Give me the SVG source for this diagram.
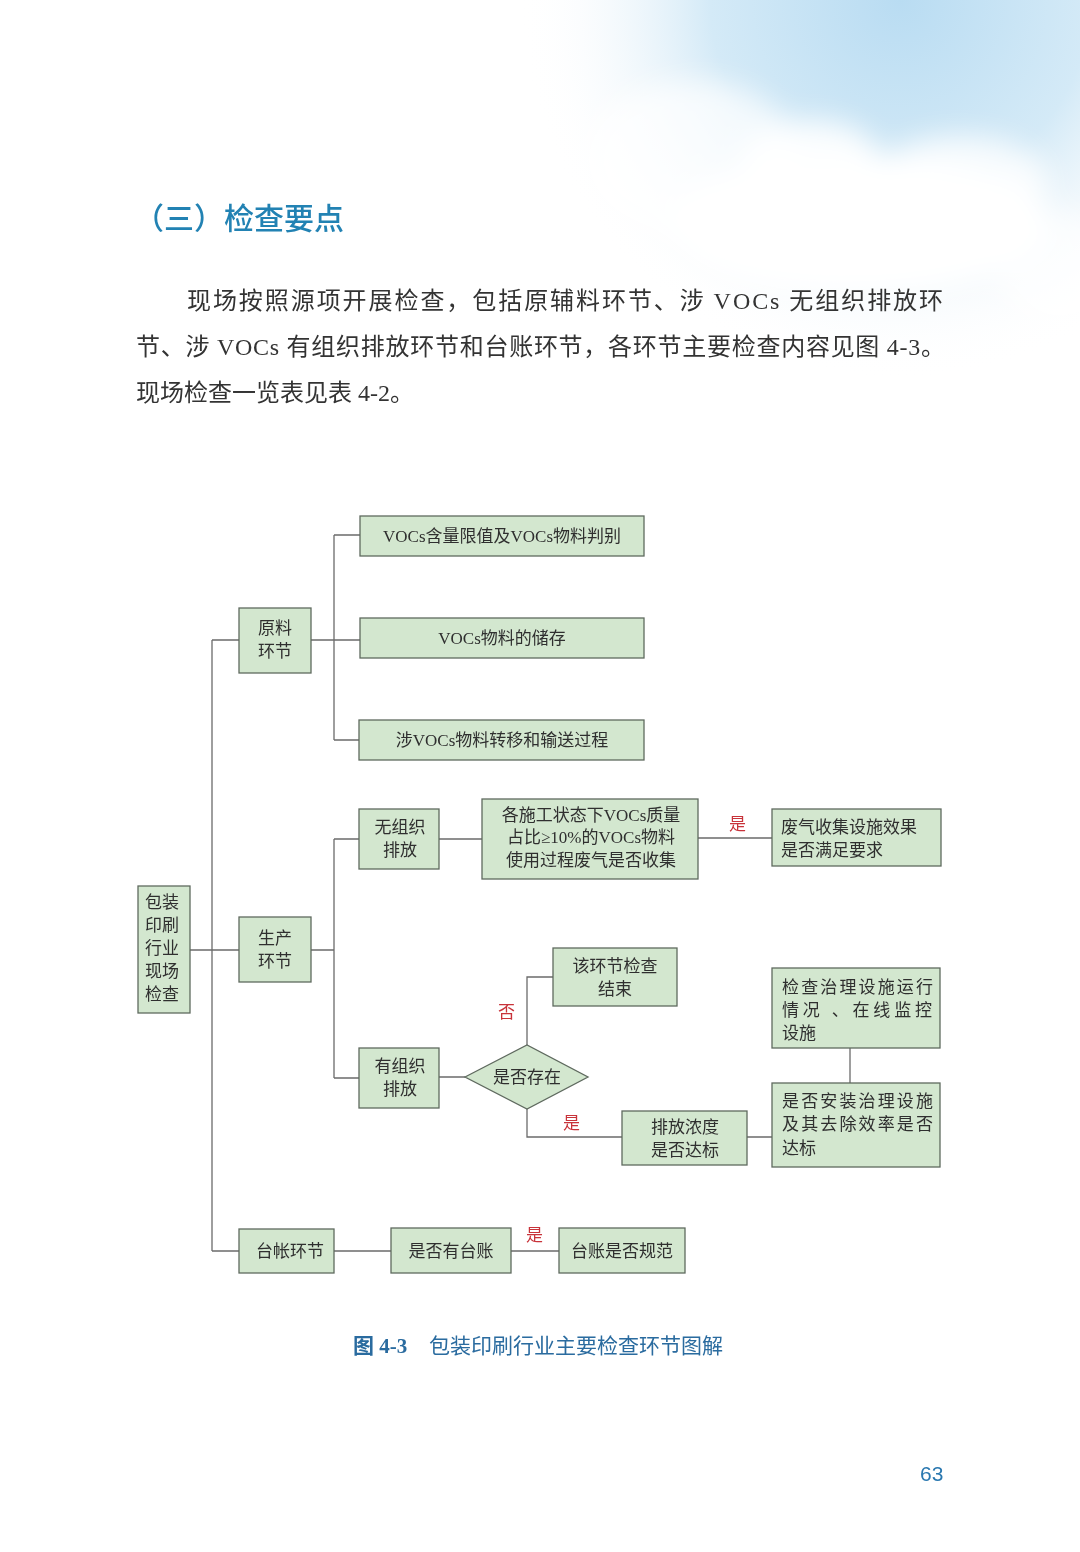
<svg xmlns="http://www.w3.org/2000/svg" width="1080" height="1552" viewBox="0 0 1080 1552">
<defs>
<radialGradient id="sky" cx="900" cy="0" r="380" gradientUnits="userSpaceOnUse">
<stop offset="0" stop-color="#b9dcf2"/>
<stop offset="0.5" stop-color="#d4eaf7"/>
<stop offset="0.8" stop-color="#f2f8fc" stop-opacity="0.5"/>
<stop offset="1" stop-color="#ffffff" stop-opacity="0"/>
</radialGradient>
<filter id="blur" x="-50%" y="-50%" width="200%" height="200%"><feGaussianBlur stdDeviation="14"/></filter>
<style>
.box{fill:#d3e7cf;stroke:#5f6a5f;stroke-width:1.3}
.t{font-family:"Liberation Serif","Noto Sans CJK SC",serif;font-size:17px;fill:#2f2f2f}
.c{text-anchor:middle}
.red{font-family:"Liberation Serif","Noto Sans CJK SC",serif;font-size:17px;fill:#c8333a}
.ln{fill:none;stroke:#6b6b6b;stroke-width:1.3}
.body{font-family:"Liberation Serif","Noto Sans CJK SC",serif;font-size:24px;fill:#333}
</style>
</defs>
<rect width="1080" height="1552" fill="#ffffff"/>
<g id="background">
<rect x="0" y="0" width="1080" height="420" fill="url(#sky)"/>
<g filter="url(#blur)" fill="#ffffff">
<ellipse cx="860" cy="225" rx="190" ry="70"/>
<ellipse cx="960" cy="185" rx="90" ry="50" opacity="0.8"/>
<ellipse cx="810" cy="160" rx="70" ry="40" opacity="0.9"/>
<ellipse cx="690" cy="160" rx="110" ry="80" opacity="0.7"/>
<ellipse cx="1060" cy="270" rx="60" ry="60" opacity="0.6"/>
</g>
</g>
<g id="heading">
<text x="134" y="229" font-family="'Noto Sans CJK SC',sans-serif" font-size="30" font-weight="500" fill="#2282b3">（三）检查要点</text>
</g>
<g id="paragraph" class="body">
<text x="187" y="309" textLength="756" lengthAdjust="spacing">现场按照源项开展检查，包括原辅料环节、涉 VOCs 无组织排放环</text>
<text x="136" y="355" textLength="809" lengthAdjust="spacing">节、涉 VOCs 有组织排放环节和台账环节，各环节主要检查内容见图 4-3。</text>
<text x="136" y="401">现场检查一览表见表 4-2。</text>
</g>
<g id="connectors" class="ln">
<path d="M334 535 V740 M334 535 H360 M311 640 H360 M334 740 H359"/>
<path d="M212 640 V1251 M212 640 H239 M212 1251 H239 M190 950 H239"/>
<path d="M311 950 H334 M334 839 V1078 M334 839 H359 M334 1078 H359"/>
<path d="M439 839 H482 M698 838 H772"/>
<path d="M439 1077 H465 M527 1045 V977 H553 M527 1109 V1137 H622 M747 1137 H772 M850 1048 V1083"/>
<path d="M334 1251 H391 M511 1251 H559"/>
</g>
<g id="n-vocs-limit"><rect class="box" x="360" y="516" width="284" height="40"/><text class="t c" x="502" y="542">VOCs含量限值及VOCs物料判别</text></g>
<g id="n-storage"><rect class="box" x="360" y="618" width="284" height="40"/><text class="t c" x="502" y="644">VOCs物料的储存</text></g>
<g id="n-transfer"><rect class="box" x="359" y="720" width="285" height="40"/><text class="t c" x="502" y="746">涉VOCs物料转移和输送过程</text></g>
<g id="n-raw"><rect class="box" x="239" y="608" width="72" height="65"/><text class="t c" x="275" y="634">原料</text><text class="t c" x="275" y="657">环节</text></g>
<g id="n-root"><rect class="box" x="138" y="886" width="52" height="127"/>
<text class="t" x="145" y="908">包装</text><text class="t" x="145" y="931">印刷</text><text class="t" x="145" y="954">行业</text><text class="t" x="145" y="977">现场</text><text class="t" x="145" y="1000">检查</text></g>
<g id="n-prod"><rect class="box" x="239" y="917" width="72" height="65"/><text class="t c" x="275" y="944">生产</text><text class="t c" x="275" y="967">环节</text></g>
<g id="n-fugitive"><rect class="box" x="359" y="809" width="80" height="60"/><text class="t c" x="400" y="833">无组织</text><text class="t c" x="400" y="856">排放</text></g>
<g id="n-collect"><rect class="box" x="482" y="799" width="216" height="80"/>
<text class="t c" x="591" y="821">各施工状态下VOCs质量</text><text class="t c" x="591" y="843">占比≥10%的VOCs物料</text><text class="t c" x="591" y="866">使用过程废气是否收集</text></g>
<text class="red" x="729" y="830">是</text>
<g id="n-effect"><rect class="box" x="772" y="809" width="169" height="57"/><text class="t" x="781" y="833">废气收集设施效果</text><text class="t" x="781" y="856">是否满足要求</text></g>
<g id="n-end"><rect class="box" x="553" y="948" width="124" height="58"/><text class="t c" x="615" y="972">该环节检查</text><text class="t c" x="615" y="995">结束</text></g>
<text class="red" x="498" y="1018">否</text>
<g id="n-stack"><rect class="box" x="359" y="1048" width="80" height="60"/><text class="t c" x="400" y="1072">有组织</text><text class="t c" x="400" y="1095">排放</text></g>
<g id="n-exist"><polygon class="box" points="465,1077 527,1045 588,1077 527,1109"/><text class="t c" x="527" y="1083">是否存在</text></g>
<text class="red" x="563" y="1129">是</text>
<g id="n-conc"><rect class="box" x="622" y="1111" width="125" height="54"/><text class="t c" x="685" y="1133">排放浓度</text><text class="t c" x="685" y="1156">是否达标</text></g>
<g id="n-operate"><rect class="box" x="772" y="968" width="168" height="80"/>
<text class="t" x="782" y="993" textLength="151" lengthAdjust="spacing">检查治理设施运行</text><text class="t" x="782" y="1016" textLength="150" lengthAdjust="spacing">情况 、在线监控</text><text class="t" x="782" y="1039">设施</text></g>
<g id="n-install"><rect class="box" x="772" y="1083" width="168" height="84"/>
<text class="t" x="782" y="1107" textLength="151" lengthAdjust="spacing">是否安装治理设施</text><text class="t" x="782" y="1130" textLength="151" lengthAdjust="spacing">及其去除效率是否</text><text class="t" x="782" y="1154">达标</text></g>
<g id="n-ledger"><rect class="box" x="239" y="1229" width="95" height="44"/><text class="t c" x="290" y="1257">台帐环节</text></g>
<g id="n-hasledger"><rect class="box" x="391" y="1228" width="120" height="45"/><text class="t c" x="451" y="1257">是否有台账</text></g>
<text class="red" x="526" y="1241">是</text>
<g id="n-standard"><rect class="box" x="559" y="1228" width="126" height="45"/><text class="t c" x="622" y="1257">台账是否规范</text></g>
<g id="caption">
<text x="353" y="1353" font-family="'Liberation Serif','Noto Sans CJK SC',serif" font-size="21" fill="#2a6b9f"><tspan font-weight="bold">图 4-3</tspan><tspan x="429">包装印刷行业主要检查环节图解</tspan></text>
</g>
<text x="920" y="1481" font-family="'Liberation Sans',sans-serif" font-size="21" fill="#2a78b0">63</text>
</svg>
